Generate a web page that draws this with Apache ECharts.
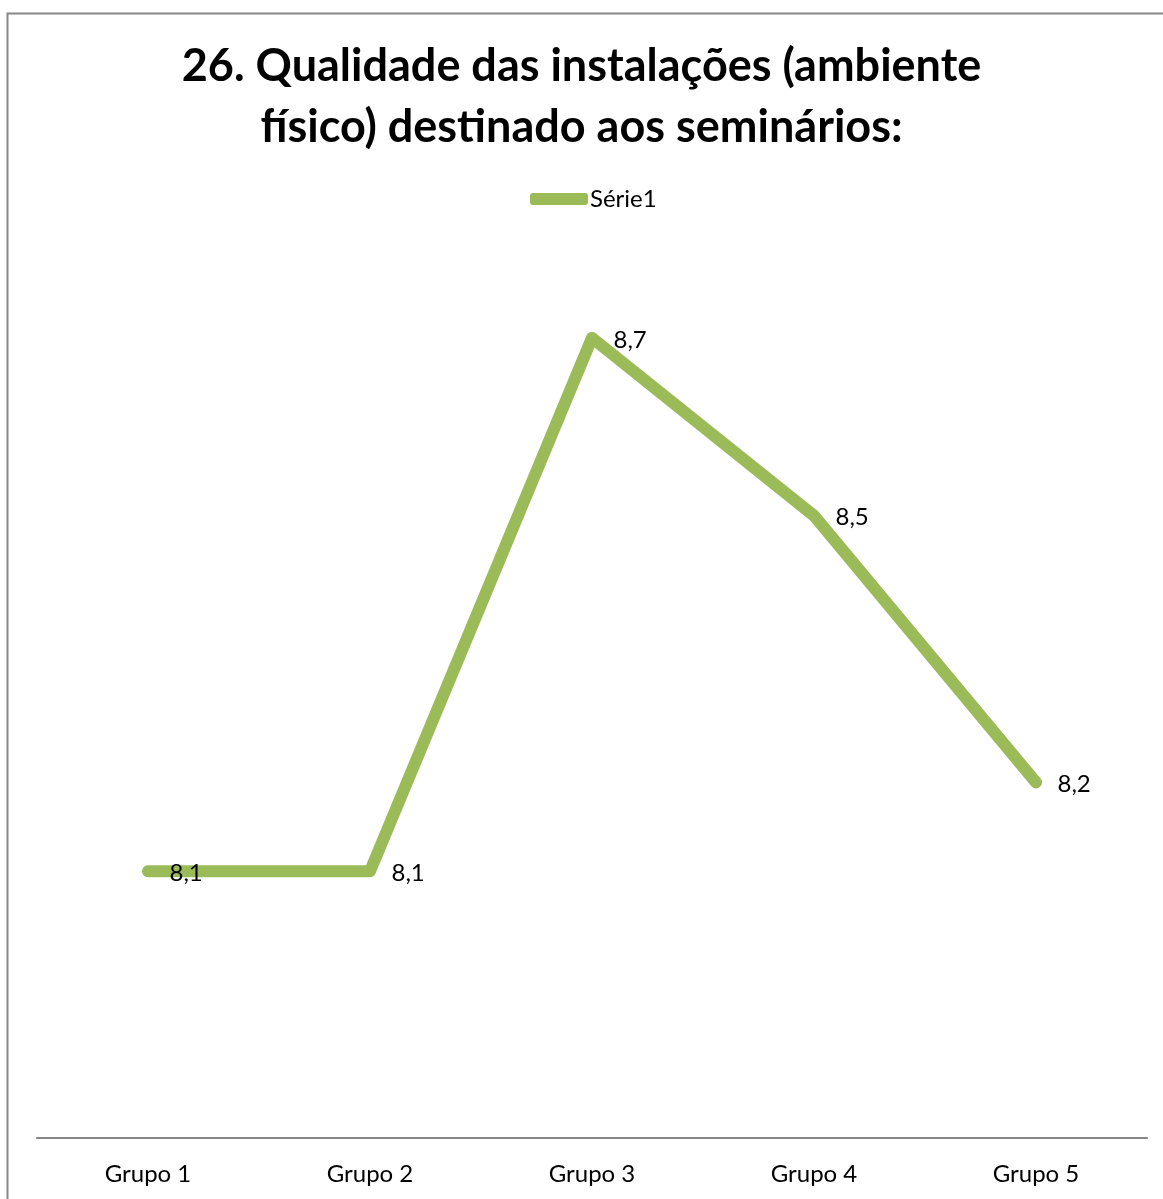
<!DOCTYPE html>
<html>
<head>
<meta charset="utf-8">
<script src="https://cdn.jsdelivr.net/npm/echarts@6/dist/echarts.min.js"></script>
<style>html,body{margin:0;padding:0;background:#fff}#c{width:1163px;height:1199px}</style>
</head>
<body>
<div id="c"></div>
<script>
const categories = ['Grupo 1', 'Grupo 2', 'Grupo 3', 'Grupo 4', 'Grupo 5'];
const serie1 = [8.1, 8.1, 8.7, 8.5, 8.2];
const titleText = '26. Qualidade das instalações (ambiente\nfísico) destinado aos seminários:';
const seriesName = 'Série1';

const chart = echarts.init(document.getElementById('c'));
chart.setOption({
  backgroundColor: '#fff',
  animation: false,
  graphic: [{
    type: 'rect', shape: {x: 7.5, y: 13.5, width: 1300, height: 1300},
    style: {fill: 'none', stroke: '#868686', lineWidth: 2}, z: -1
  }],
  title: {
    text: titleText, left: 'center', top: 31,
    textStyle: {fontFamily: 'Lato', fontWeight: 'bold', fontSize: 45, color: '#000', lineHeight: 61}
  },
  legend: {
    top: 182, left: 525, itemWidth: 58, itemHeight: 12, itemGap: 0,
    icon: 'roundRect',
    textStyle: {fontFamily: 'Lato', fontSize: 24, color: '#000', padding: [0,0,0,-3]},
    data: [{name: seriesName, itemStyle: {color: '#9BBB59', opacity: 1}}]
  },
  grid: {left: 37, right: 16, top: 249, bottom: 61, containLabel: false},
  xAxis: {
    type: 'category', data: categories, boundaryGap: true,
    axisLine: {lineStyle: {color: '#868686', width: 2}},
    axisTick: {show: false},
    axisLabel: {fontFamily: 'Lato', fontSize: 24, color: '#000', margin: 24}
  },
  yAxis: {type: 'value', min: 7.8, max: 8.8, show: false, splitLine: {show: false}},
  series: [{
    name: seriesName, type: 'line', data: serie1,
    symbol: 'circle', symbolSize: 1, showSymbol: true,
    lineStyle: {color: '#9BBB59', width: 12, cap: 'round', join: 'round'},
    itemStyle: {color: 'rgba(155,187,89,0)', borderWidth: 0},
    label: {
      show: true, position: 'right', distance: 21, offset: [0, 2],
      fontFamily: 'Lato', fontSize: 24, color: '#000',
      formatter: p => String(p.value).replace('.', ',')
    }
  }]
});
</script>
</body>
</html>
